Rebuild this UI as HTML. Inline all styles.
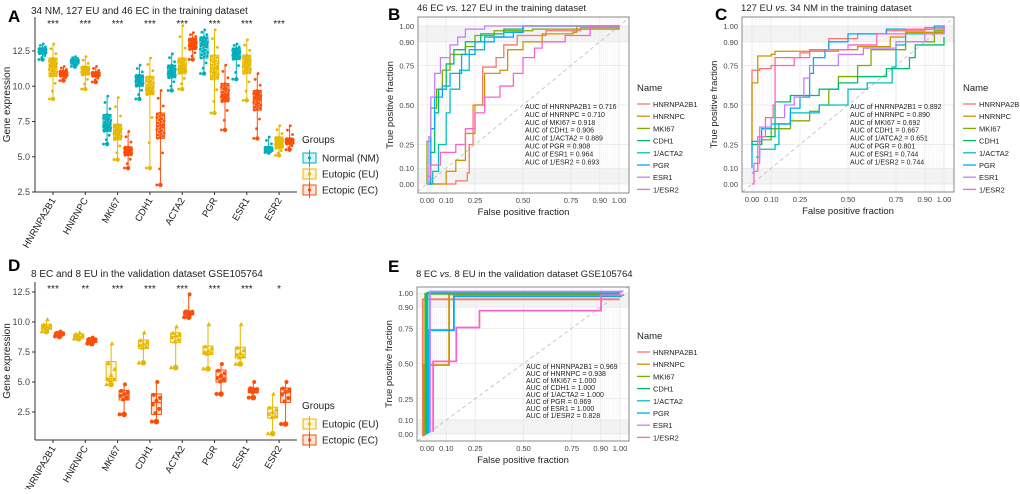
<!DOCTYPE html>
<html><head><meta charset="utf-8"><style>
body{margin:0;background:#fff;width:1020px;height:489px;overflow:hidden;font-family:"Liberation Sans",sans-serif}
svg text{font-family:"Liberation Sans",sans-serif}
</style></head><body>
<svg id="fig" width="1020" height="489" viewBox="0 0 1020 489" xmlns="http://www.w3.org/2000/svg"></svg>
<script>
const genes=["HNRNPA2B1","HNRNPC","MKI67","CDH1","ACTA2","PGR","ESR1","ESR2"];
const sigA=["***","***","***","***","***","***","***","***"];
const sigD=["***","**","***","***","***","***","***","*"];
const aNM=[[11.9,12.3,12.5,12.7,13.0],[11.4,11.6,11.8,11.9,12.1],[5.9,6.8,7.3,8.0,9.3],[9.1,10.0,10.5,10.8,11.5],[9.7,10.6,11.0,11.5,12.3],[10.9,12.0,12.9,13.5,14.0],[10.5,11.9,12.3,12.7,13.0],[5.3,5.4,5.5,5.7,6.4]];
const aEU=[[9.1,10.7,11.4,12.0,13.0],[9.8,10.8,11.1,11.4,12.1],[4.8,6.2,6.8,7.3,9.2],[4.2,9.4,9.9,10.7,12.0],[9.8,10.9,11.3,12.0,14.3],[8.1,10.5,11.3,12.2,14.0],[9.0,10.9,11.6,12.2,13.3],[5.1,5.6,6.0,6.4,7.2]];
const aEC=[[10.4,10.7,10.9,11.1,11.4],[10.3,10.7,10.9,11.0,11.4],[4.2,5.1,5.4,5.7,6.8],[3.0,6.3,7.2,8.1,9.7],[11.9,12.6,13.0,13.4,13.8],[6.9,8.9,9.4,10.2,11.5],[6.3,8.3,9.1,9.7,10.9],[5.5,5.9,6.1,6.3,7.2]];
const dEU=[[9.2,9.4,9.6,9.8,10.2],[8.6,8.7,8.8,9.0,9.1],[4.8,5.1,5.3,6.7,8.2],[6.6,7.8,8.1,8.5,9.1],[6.2,8.3,8.8,9.1,9.6],[6.1,7.3,7.5,8.0,9.8],[6.5,7.0,7.3,7.9,9.8],[0.7,2.0,2.4,2.9,4.0]];
const dEC=[[8.8,8.9,9.0,9.1,9.2],[8.2,8.3,8.5,8.6,8.7],[2.3,3.5,3.9,4.3,4.8],[1.7,2.3,3.3,4.0,5.0],[10.4,10.6,10.8,10.9,12.3],[4.0,5.0,5.4,6.0,6.5],[3.7,4.1,4.3,4.5,5.0],[1.5,3.3,4.1,4.5,5.0]];
const yTicksBox=[2.5,5.0,7.5,10.0,12.5];
const rocNames=["HNRNPA2B1","HNRNPC","MKI67","CDH1","1/ACTA2","PGR","ESR1","1/ESR2"];
const rocCols=["#F8766D","#CD9600","#7CAE00","#00BE67","#00BFC4","#00A9FF","#C77CFF","#FF61CC"];
const rocTicks=[0,0.1,0.25,0.5,0.75,0.9,1];
const rocTickLab=["0.00","0.10","0.25","0.50","0.75","0.90","1.00"];
const aucB=["0.716","0.710","0.918","0.906","0.889","0.908","0.964","0.693"];
const aucC=["0.892","0.890","0.692","0.667","0.651","0.801","0.744","0.744"];
const aucE=["0.969","0.938","1.000","1.000","1.000","0.969","1.000","0.828"];
const rocB=[
[[0,0],[0.15,0],[0.15,0.02],[0.21,0.07],[0.22,0.25],[0.24,0.5],[0.29,0.74],[0.36,0.8],[0.40,0.88],[0.47,0.94],[0.62,0.97],[0.80,0.99],[1,1]],
[[0,0],[0.09,0],[0.1,0.08],[0.15,0.15],[0.2,0.32],[0.25,0.5],[0.3,0.7],[0.38,0.72],[0.42,0.85],[0.5,0.9],[0.6,0.95],[0.76,0.96],[0.78,1],[1,1]],
[[0,0],[0,0.27],[0.02,0.48],[0.05,0.6],[0.08,0.72],[0.12,0.82],[0.2,0.87],[0.25,0.94],[0.35,0.97],[0.55,0.98],[1,1]],
[[0,0],[0.02,0.2],[0.04,0.45],[0.06,0.6],[0.1,0.76],[0.14,0.85],[0.2,0.9],[0.28,0.95],[0.4,0.98],[0.5,1],[1,1]],
[[0,0],[0.03,0.08],[0.06,0.25],[0.1,0.45],[0.12,0.6],[0.17,0.72],[0.22,0.85],[0.3,0.93],[0.4,0.96],[0.5,1],[1,1]],
[[0,0],[0.02,0.35],[0.04,0.55],[0.08,0.62],[0.12,0.7],[0.18,0.82],[0.25,0.9],[0.35,0.93],[0.45,0.96],[0.5,1],[1,1]],
[[0,0],[0.01,0.3],[0.02,0.55],[0.04,0.7],[0.07,0.8],[0.12,0.88],[0.16,0.93],[0.2,0.98],[0.3,1],[1,1]],
[[0,0.05],[0.02,0.12],[0.07,0.2],[0.15,0.25],[0.2,0.35],[0.25,0.45],[0.3,0.55],[0.38,0.62],[0.45,0.7],[0.5,0.8],[0.56,0.86],[0.6,0.9],[0.72,0.94],[0.85,1],[1,1]]];
const rocC=[
[[0,0.25],[0,0.72],[0.04,0.73],[0.1,0.75],[0.12,0.8],[0.25,0.83],[0.3,0.85],[0.4,0.92],[0.55,0.95],[0.7,0.97],[0.9,0.99],[1,1]],
[[0,0.2],[0,0.64],[0.03,0.81],[0.1,0.82],[0.12,0.84],[0.45,0.85],[0.55,0.87],[0.72,0.93],[0.8,0.96],[1,0.98]],
[[0,0.25],[0.05,0.28],[0.1,0.35],[0.2,0.4],[0.3,0.46],[0.35,0.5],[0.4,0.6],[0.45,0.68],[0.55,0.75],[0.62,0.85],[0.8,0.9],[0.95,0.97],[1,1]],
[[0,0.25],[0.05,0.3],[0.12,0.52],[0.2,0.56],[0.35,0.6],[0.45,0.64],[0.55,0.68],[0.7,0.73],[0.82,0.8],[0.85,0.88],[1,0.93]],
[[0.02,0.17],[0.04,0.22],[0.12,0.25],[0.14,0.38],[0.2,0.45],[0.35,0.5],[0.5,0.6],[0.6,0.64],[0.73,0.74],[0.75,0.88],[0.8,0.95],[1,1]],
[[0,0.1],[0,0.27],[0.05,0.35],[0.1,0.38],[0.2,0.48],[0.25,0.55],[0.3,0.6],[0.3,0.7],[0.32,0.8],[0.38,0.85],[0.4,0.9],[0.5,0.95],[0.7,0.98],[0.95,1],[1,1]],
[[0,0.07],[0.01,0.13],[0.04,0.36],[0.1,0.42],[0.17,0.5],[0.22,0.55],[0.27,0.67],[0.3,0.75],[0.45,0.82],[0.58,0.86],[0.75,0.9],[0.9,0.95],[1,1]],
[[0,0],[0.01,0.08],[0.03,0.3],[0.07,0.42],[0.11,0.5],[0.12,0.75],[0.22,0.8],[0.3,0.85],[0.5,0.88],[0.65,0.95],[0.8,0.98],[1,1]]];
const rocE=[
[[0,0],[0,0.97],[1.02,0.97]],
[[0,0],[0,0.5],[0.13,0.5],[0.13,1],[1,1]],
[[0,0],[0,1],[1,1]],
[[0,0],[0,1],[1,1]],
[[0,0],[0,1],[1,1]],
[[0,0],[0,0.73],[0.13,0.73],[0.13,0.97],[1,0.97]],
[[0,0],[0,1],[1,1]],
[[0.01,0],[0.01,0.5],[0.13,0.5],[0.13,0.74],[0.25,0.74],[0.25,0.86],[0.88,0.86],[0.88,0.97],[1,0.97]]];

const svg=document.getElementById('fig');const NS="http://www.w3.org/2000/svg";
function mk(tag,attrs,parent,txt){const e=document.createElementNS(NS,tag);for(const k in attrs)e.setAttribute(k,attrs[k]);if(txt!==undefined)e.textContent=txt;(parent||svg).appendChild(e);return e;}
function txt(x,y,s,size,extra,name){const t=mk('text',Object.assign({x:x,y:y,'font-size':size,fill:'#222'},extra||{}),svg,s);

return t;}

function boxPanel(o){
 const g=mk('g',{});
 
 
 const ys=v=>o.y0-(v-o.v0)*o.k;
 mk('line',{x1:o.x0,y1:o.top,x2:o.x0,y2:o.bot,stroke:'#333','stroke-width':1},g);
 mk('line',{x1:o.x0,y1:o.bot,x2:o.x1,y2:o.bot,stroke:'#333','stroke-width':1},g);
 yTicksBox.forEach(v=>{const y=ys(v);mk('line',{x1:o.x0-3,y1:y,x2:o.x0,y2:y,stroke:'#333'},g);
  const t=mk('text',{x:o.x0-5,y:y+3,'font-size':9,'text-anchor':'end',fill:'#444'},g,v.toFixed(1));
  });
 genes.forEach((gn,i)=>{const cx=o.cx0+i*o.dx;
  mk('line',{x1:cx,y1:o.bot,x2:cx,y2:o.bot+3,stroke:'#333'},g);
  const t=mk('text',{x:cx+3,y:o.bot+8,'font-size':9.5,'text-anchor':'end',fill:'#222',transform:`rotate(-60 ${cx+3} ${o.bot+8})`},g,gn);
  
  const s=mk('text',{x:cx,y:o.top+10,'font-size':10,'text-anchor':'middle',fill:'#222'},g,o.sig[i]);
  
  o.groups.forEach((grp,j)=>{const st=grp.data[i];const bx=cx+(j-(o.groups.length-1)/2)*o.gw;const hw=o.bw/2;
   const bg=mk('g',{},g);
   
   
   mk('line',{x1:bx,y1:ys(st[0]),x2:bx,y2:ys(st[4]),stroke:grp.c,'stroke-width':1},bg);
   mk('rect',{x:bx-hw,y:ys(st[3]),width:o.bw,height:ys(st[1])-ys(st[3]),fill:grp.c,'fill-opacity':0.15,stroke:grp.c,'stroke-width':1},bg);
   mk('line',{x1:bx-hw,y1:ys(st[2]),x2:bx+hw,y2:ys(st[2]),stroke:grp.c,'stroke-width':1},bg);
   const n=o.np;
   for(let p=0;p<n;p++){const f=p/(n-1);let v;
    if(f<0.1)v=st[0]+(st[1]-st[0])*f/0.1;else if(f<0.5)v=st[1]+(st[2]-st[1])*(f-0.1)/0.4;else if(f<0.9)v=st[2]+(st[3]-st[2])*(f-0.5)/0.4;else v=st[3]+(st[4]-st[3])*(f-0.9)/0.1;
    const jx=((p*37)%11-5)/5*hw*0.9;
    if(o.tri&&j===0)mk('path',{d:`M${bx+jx},${ys(v)-2.5}l2.4,4.2h-4.8z`,fill:grp.c},bg);
    else mk('circle',{cx:bx+jx,cy:ys(v),r:o.pr,fill:grp.c},bg);}
   mk('circle',{cx:bx,cy:ys(st[0]),r:o.pr+0.8,fill:grp.c},bg);
  });
 });
 const yt=mk('text',{x:0,y:0,'font-size':10,'text-anchor':'middle',fill:'#222',transform:`translate(${o.x0-25},${(o.top+o.bot)/2}) rotate(-90)`},g,'Gene expression');
 
 const lg=mk('g',{},g);
 const lt=mk('text',{x:o.lx,y:o.ly,'font-size':10,fill:'#222'},lg,'Groups');
 o.groups.forEach((grp,j)=>{const y=o.ly+15+j*16;const e=mk('g',{},lg);
  
  mk('rect',{x:o.lx+1,y:y-5,width:13,height:10,fill:grp.c,'fill-opacity':0.15,stroke:grp.c},e);
  mk('line',{x1:o.lx+7.5,y1:y-8,x2:o.lx+7.5,y2:y+8,stroke:grp.c},e);
  mk('circle',{cx:o.lx+7.5,cy:y,r:1.6,fill:grp.c},e);
  mk('text',{x:o.lx+20,y:y+3.5,'font-size':10,fill:'#222'},e,grp.label);});
}
boxPanel({name:'panel-a-boxplot',x0:35,x1:297,top:17,bot:192,y0:51,v0:12.5,k:14.1,cx0:53,dx:32.3,gw:10.5,bw:8,np:30,pr:1.4,sig:sigA,lx:302,ly:143,
 groups:[{key:'nm',c:'#00AFBB',label:'Normal (NM)',data:aNM},{key:'eu',c:'#E7B800',label:'Eutopic (EU)',data:aEU},{key:'ec',c:'#FC4E07',label:'Ectopic (EC)',data:aEC}]});
boxPanel({name:'panel-d-boxplot',x0:35,x1:297,top:282,bot:440,y0:292,v0:12.5,k:12,cx0:53,dx:32.3,gw:13,bw:10,np:8,pr:2,tri:true,sig:sigD,lx:302,ly:409,
 groups:[{key:'eu',c:'#E7B800',label:'Eutopic (EU)',data:dEU},{key:'ec',c:'#FC4E07',label:'Ectopic (EC)',data:dEC}]});

function rocPanel(o){
 const g=mk('g',{});
 const xs=v=>o.xa+(o.xb-o.xa)*v, ys=v=>o.ya+(o.yb-o.ya)*v;
 mk('rect',{x:o.bx0,y:o.by0,width:o.bx1-o.bx0,height:o.by1-o.by0,fill:'#fff'},g);
 mk('rect',{x:o.bx0,y:ys(1),width:o.bx1-o.bx0,height:ys(0.9)-ys(1),fill:'#f3f3f3'},g);
 mk('rect',{x:o.bx0,y:ys(0.1),width:o.bx1-o.bx0,height:ys(0)-ys(0.1),fill:'#f3f3f3'},g);
 for(let i=0;i<=10;i++){[i*0.01,1-i*0.01].forEach(v=>mk('line',{x1:xs(v),y1:o.by0,x2:xs(v),y2:o.by1,stroke:'#f0f0f0','stroke-width':0.4},g));}
 rocTicks.forEach(v=>{mk('line',{x1:xs(v),y1:o.by0,x2:xs(v),y2:o.by1,stroke:'#e6e6e6','stroke-width':0.7},g);
  mk('line',{x1:o.bx0,y1:ys(v),x2:o.bx1,y2:ys(v),stroke:'#e6e6e6','stroke-width':0.7},g);});
 mk('line',{x1:xs(-0.05),y1:ys(-0.05),x2:xs(1.05),y2:ys(1.05),stroke:'#bbb','stroke-dasharray':'4,3','stroke-width':0.8},g);
 o.data.forEach((pts,i)=>{let d='M'+xs(pts[0][0])+','+ys(pts[0][1]);
  for(let p=1;p<pts.length;p++){d+=' H'+xs(pts[p][0])+' V'+ys(pts[p][1]);}
  const c=mk('path',{d:d,fill:'none',stroke:rocCols[i],'stroke-width':o.sw||1.3,transform:o.off?`translate(${(i-3.5)*1.2},${-(i-3.5)*0.6})`:''},g);
  
  });
 mk('rect',{x:o.bx0,y:o.by0,width:o.bx1-o.bx0,height:o.by1-o.by0,fill:'none',stroke:'#888','stroke-width':1},g);
 rocTicks.forEach((v,i)=>{const a=mk('text',{x:xs(v),y:o.by1+10,'font-size':7.5,'text-anchor':'middle',fill:'#444'},g,rocTickLab[i]);
  
  const b=mk('text',{x:o.bx0-4,y:ys(v)+3,'font-size':7.5,'text-anchor':'end',fill:'#444'},g,rocTickLab[i]);
  });
 const xt=mk('text',{x:(o.bx0+o.bx1)/2,y:o.by1+22,'font-size':9.5,'text-anchor':'middle',fill:'#222'},g,'False positive fraction');
 
 const yt=mk('text',{x:0,y:0,'font-size':9.5,'text-anchor':'middle',fill:'#222',transform:`translate(${o.bx0-25},${(o.by0+o.by1)/2}) rotate(-90)`},g,'True positive fraction');
 
 o.auc.forEach((a,i)=>{const t=mk('text',{x:o.ax,y:o.ay+i*o.as,'font-size':7,fill:'#222'},g,'AUC of '+(o.aucNames||rocNames)[i]+' = '+a);
  });
 const lg=mk('g',{},g);
 mk('text',{x:o.lx,y:o.ly,'font-size':9.5,fill:'#222'},lg,'Name');
 rocNames.forEach((n,i)=>{const y=o.ly+13+i*12.2;const e=mk('g',{},lg);
  
  mk('line',{x1:o.lx,y1:y,x2:o.lx+13,y2:y,stroke:rocCols[i],'stroke-width':1.3},e);
  mk('text',{x:o.lx+16,y:y+3,'font-size':7.5,fill:'#222'},e,n);});
}
rocPanel({name:'panel-b-roc',bx0:418,bx1:629,by0:17,by1:193,xa:427,xb:619,ya:184,yb:26,data:rocB,auc:aucB,ax:525,ay:109,as:7.9,lx:637,ly:91});
const cNames=rocNames.slice();cNames[4]='1/ATCA2';
rocPanel({name:'panel-c-roc',bx0:742,bx1:954,by0:17,by1:192,xa:752,xb:944,ya:184,yb:26,data:rocC,auc:aucC,aucNames:cNames,ax:850,ay:109,as:7.9,lx:963,ly:91});
rocPanel({name:'panel-e-roc',bx0:417,bx1:629,by0:287,by1:441,xa:427,xb:620,ya:434,yb:293,data:rocE,auc:aucE,ax:526,ay:369,as:7,lx:637,ly:339,sw:1.8,off:true});

txt(8,22,'A',17,{'font-weight':'bold',fill:'#000'},'panel-letter-a');
txt(31,14,'34 NM, 127 EU and 46 EC in the training dataset',10,{},'panel-a-title');
txt(388,20,'B',17,{'font-weight':'bold',fill:'#000'},'panel-letter-b');
const tb=txt(417,11,'',9.5,{},'panel-b-title');tb.innerHTML='46 EC <tspan font-style="italic">vs.</tspan> 127 EU in the training dataset';
txt(715,20,'C',17,{'font-weight':'bold',fill:'#000'},'panel-letter-c');
const tc=txt(741,11,'',9.5,{},'panel-c-title');tc.innerHTML='127 EU <tspan font-style="italic">vs.</tspan> 34 NM in the training dataset';
txt(8,271,'D',17,{'font-weight':'bold',fill:'#000'},'panel-letter-d');
txt(31,277,'8 EC and 8 EU in the validation dataset GSE105764',10,{},'panel-d-title');
txt(388,272,'E',17,{'font-weight':'bold',fill:'#000'},'panel-letter-e');
const te=txt(416,277,'',9.5,{},'panel-e-title');te.innerHTML='8 EC <tspan font-style="italic">vs.</tspan> 8 EU in the validation dataset GSE105764';
</script>
</body></html>
